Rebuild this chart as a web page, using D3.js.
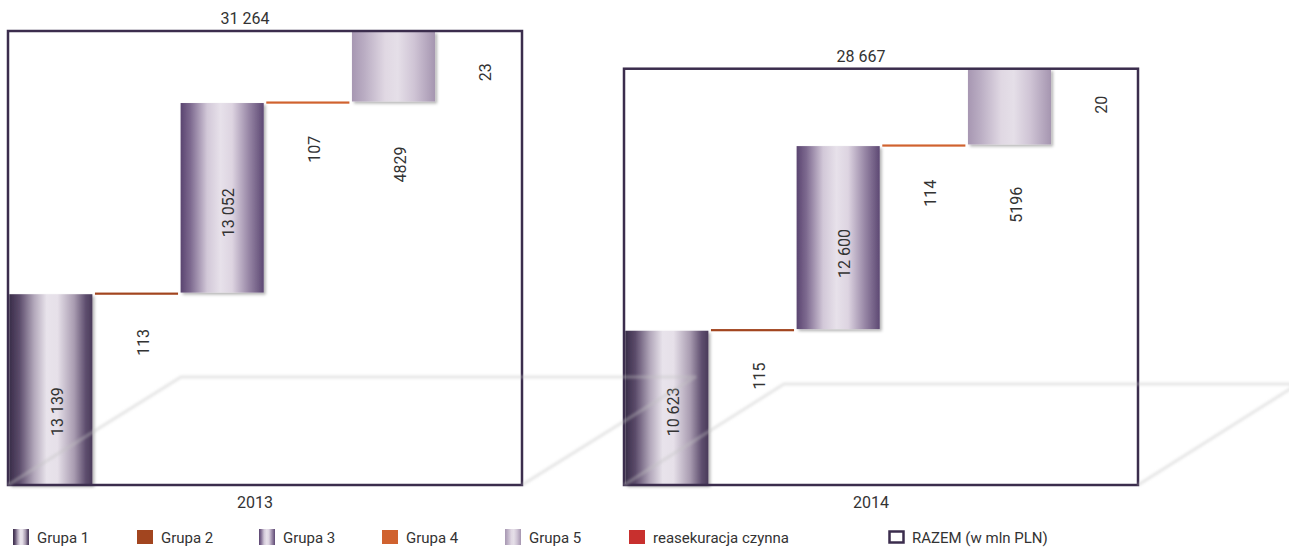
<!DOCTYPE html>
<html>
<head>
<meta charset="utf-8">
<script src="https://cdnjs.cloudflare.com/ajax/libs/d3/7.8.5/d3.min.js"></script>
<style>
  html, body { margin: 0; padding: 0; background: #fff; }
  svg { display: block; font-family: Roboto, "Noto Sans", sans-serif; }
</style>
</head>
<body>
<svg id="chart" width="1289" height="547"></svg>
<script>
// ---------------- data ----------------
const categories = ["Grupa 1", "Grupa 2", "Grupa 3", "Grupa 4", "Grupa 5", "reasekuracja czynna"];
const years = ["2013", "2014"];
const values2013 = [13139, 113, 13052, 107, 4829, 23];
const values2014 = [10623, 115, 12600, 114, 5196, 20];
const totals = [31264, 28667];
const totalLabel = "RAZEM (w mln PLN)";

// ---------------- layout / style ----------------
const W = 1289, H = 547;
const baseY = 485, topY = 31;
const panelRanges = [[8, 522], [624, 1138]];
const floorDepth = [[173, 108], [160, 101]];
// label vertical shift (px) relative to the segment's middle, per panel
const labelShift = [[22, 49, 15, 47, 98, 41], [4, 46, 16, 48, 98, 36]];
const kinds = ["grad1", "line", "grad3", "line", "grad5", "line"];
const colors = {
  "Grupa 2": "#a2451f",
  "Grupa 4": "#d0622f",
  "reasekuracja czynna": "#c8302e"
};
const boxColor = "#3b2d4d";
const textColor = "#333333";

const locale = d3.formatLocale({ decimal: ",", thousands: "\u2009", grouping: [3], currency: ["", ""] });
const fmtBig = locale.format(",d");
const fmt = v => v >= 10000 ? fmtBig(v).replace("\u2009", " ") : String(v);

const svg = d3.select("#chart");
const defs = svg.append("defs");

function grad(id, stops) {
  const g = defs.append("linearGradient").attr("id", id)
    .attr("x1", "0").attr("x2", "1").attr("y1", "0").attr("y2", "0");
  stops.forEach(([o, c]) => g.append("stop").attr("offset", o).attr("stop-color", c));
}
grad("grad1", [[0, "#3a2d49"], [0.12, "#5a4a6a"], [0.3, "#b3a8bb"], [0.45, "#e8e3eb"], [0.58, "#e6e0e9"], [0.78, "#a99cb1"], [0.92, "#5e4e6e"], [1, "#4a3b5a"]]);
grad("grad3", [[0, "#5a4470"], [0.12, "#7e6a90"], [0.32, "#d2c8d8"], [0.48, "#e7e1ea"], [0.62, "#ddd4e1"], [0.82, "#9887a6"], [1, "#5d4873"]]);
grad("grad5", [[0, "#a797b2"], [0.15, "#baadc3"], [0.4, "#e0d8e3"], [0.55, "#e5dfe8"], [0.75, "#cfc4d5"], [1, "#a595b0"]]);

const shadow = defs.append("filter").attr("id", "shadow")
  .attr("x", "-10%").attr("y", "-10%").attr("width", "130%").attr("height", "130%");
shadow.append("feDropShadow").attr("dx", 2).attr("dy", 2).attr("stdDeviation", 1.5)
  .attr("flood-color", "#000").attr("flood-opacity", 0.3);
const blur = defs.append("filter").attr("id", "blur");
blur.append("feGaussianBlur").attr("stdDeviation", 1);

const y = d3.scaleLinear().domain([0, d3.max(totals)]).range([baseY, topY]);

const dataSets = [values2013, values2014];
const floorLayer = [];

dataSets.forEach((vals, p) => {
  const x = d3.scaleBand().domain(categories).range(panelRanges[p])
    .paddingInner(0.03).paddingOuter(0.015);
  const g = svg.append("g");
  let cum = 0;
  const segs = vals.map((v, i) => {
    const s = { cat: categories[i], v, start: cum, end: cum + v, kind: kinds[i], i };
    cum += v;
    return s;
  });

  // bars and connector lines
  segs.forEach(s => {
    const y0 = y(s.start), y1 = y(s.end);
    if (s.kind === "line") {
      const h = s.cat === "reasekuracja czynna" ? (y0 - y1) : Math.max(y0 - y1, 2.2);
      g.append("rect")
        .attr("x", x(s.cat)).attr("width", x.bandwidth())
        .attr("y", y1).attr("height", h)
        .attr("fill", colors[s.cat]);
    } else {
      g.append("rect")
        .attr("x", x(s.cat)).attr("width", x.bandwidth())
        .attr("y", y1).attr("height", y0 - y1)
        .attr("fill", `url(#${s.kind})`)
        .attr("filter", "url(#shadow)");
    }
  });

  // total box
  const [rx0, rx1] = panelRanges[p];
  g.append("rect")
    .attr("x", rx0).attr("y", y(totals[p]))
    .attr("width", rx1 - rx0).attr("height", y(0) - y(totals[p]))
    .attr("fill", "none").attr("stroke", boxColor).attr("stroke-width", 2.5);

  // value labels
  segs.forEach(s => {
    const cx = x(s.cat) + x.bandwidth() / 2 + 6.5;
    const cy = (y(s.start) + y(s.end)) / 2 + labelShift[p][s.i];
    g.append("text")
      .attr("transform", `translate(${cx},${cy}) rotate(-90)`)
      .attr("text-anchor", "middle").attr("dy", "0.36em")
      .attr("font-size", 16).attr("fill", textColor)
      .text(fmt(s.v));
  });

  // total label and year label
  const mid = (rx0 + rx1) / 2;
  g.append("text")
    .attr("x", mid - 20).attr("y", y(totals[p]) - 7)
    .attr("text-anchor", "middle").attr("font-size", 16).attr("fill", textColor)
    .text(fmt(totals[p]));
  g.append("text")
    .attr("x", mid - 10).attr("y", baseY + 23)
    .attr("text-anchor", "middle").attr("font-size", 16).attr("fill", textColor)
    .text(years[p]);

  // floor (perspective plane)
  const [dx, dy] = floorDepth[p];
  floorLayer.push([[rx0, y(0)], [rx0 + dx, y(0) - dy], [rx1 + dx, y(0) - dy], [rx1, y(0)]]);
});

// floors drawn on top, semi-transparent
const floorG = svg.append("g").attr("filter", "url(#blur)");
floorLayer.forEach(pts => {
  floorG.append("path")
    .attr("d", d3.line()(pts))
    .attr("fill", "none").attr("stroke", "#c4c4c4").attr("stroke-opacity", 0.35)
    .attr("stroke-width", 3.5).attr("stroke-linejoin", "round");
});

// legend
const legendX = [13, 137, 259, 382, 505, 629, 888];
const legendItems = [...categories, totalLabel];
const lg = svg.append("g");
legendItems.forEach((name, i) => {
  const lx = legendX[i];
  const k = i < kinds.length ? kinds[i] : "box";
  if (k === "box") {
    lg.append("rect").attr("x", lx + 1.5).attr("y", 531.5).attr("width", 14).attr("height", 11)
      .attr("fill", "none").attr("stroke", boxColor).attr("stroke-width", 2.5);
  } else if (k === "line") {
    lg.append("rect").attr("x", lx).attr("y", 530).attr("width", 16).attr("height", 14)
      .attr("fill", colors[name]);
  } else {
    lg.append("rect").attr("x", lx).attr("y", 529).attr("width", 16).attr("height", 16)
      .attr("fill", `url(#${k})`);
  }
  lg.append("text").attr("x", lx + 24).attr("y", 543)
    .attr("font-size", 15).attr("fill", textColor).text(name);
});
</script>
</body>
</html>
